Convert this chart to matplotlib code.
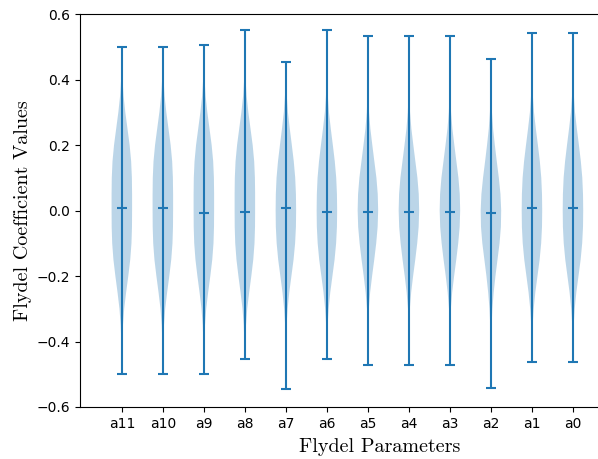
#!/usr/bin/env python3
"""
Violin plot of the Flydel coefficient distributions per parameter
"""

import numpy as np
import matplotlib
matplotlib.use('Agg')
import matplotlib.pyplot as plt

# parameter names, left to right
labels = ['a11', 'a10', 'a9', 'a8', 'a7', 'a6', 'a5', 'a4', 'a3', 'a2', 'a1', 'a0']

# extrema and medians
mins = [-0.50, -0.50, -0.50, -0.453, -0.545, -0.453, -0.472, -0.472, -0.472, -0.542, -0.463, -0.463]
maxs = [0.50, 0.50, 0.505, 0.551, 0.453, 0.551, 0.533, 0.533, 0.533, 0.463, 0.542, 0.542]
medians = [0.008, 0.008, -0.008, -0.005, 0.008, -0.005, -0.005, -0.005, -0.005, -0.008, 0.008, 0.008]

# density profile levels (y values) and relative widths of the violins
levels = [-0.55, -0.50, -0.45, -0.40, -0.35, -0.30, -0.25, -0.20, -0.15, -0.10, -0.05,
          0.00, 0.05, 0.10, 0.15, 0.20, 0.25, 0.30, 0.35, 0.40, 0.45, 0.50, 0.55]
wide = [0.0, 0.0, 0.02, 0.05, 0.11, 0.23, 0.42, 0.63, 0.82, 0.94, 0.99,
        1.0, 1.0, 0.98, 0.91, 0.76, 0.55, 0.34, 0.17, 0.07, 0.02, 0.0, 0.0]
medium = [0.0, 0.0, 0.01, 0.03, 0.07, 0.17, 0.33, 0.54, 0.75, 0.90, 0.98,
          1.0, 0.98, 0.91, 0.77, 0.58, 0.38, 0.20, 0.09, 0.03, 0.01, 0.0, 0.0]
narrow = [0.0, 0.0, 0.0, 0.01, 0.03, 0.09, 0.22, 0.41, 0.62, 0.81, 0.95,
          1.0, 0.96, 0.83, 0.63, 0.43, 0.24, 0.11, 0.04, 0.01, 0.0, 0.0, 0.0]
peaked = [0.0, 0.0, 0.01, 0.03, 0.07, 0.14, 0.27, 0.44, 0.64, 0.84, 0.97,
          1.0, 0.93, 0.77, 0.57, 0.38, 0.21, 0.10, 0.04, 0.01, 0.0, 0.0, 0.0]
profiles = [wide, wide, wide, wide, medium, medium, narrow, narrow, narrow, peaked, medium, medium]


def build_stats():
    """Assemble the stats dicts that ax.violin expects"""
    lv = np.array(levels)
    stats = []
    for lo, hi, med, prof in zip(mins, maxs, medians, profiles):
        coords = np.concatenate([[lo], lv[(lv > lo) & (lv < hi)], [hi]])
        vals = np.interp(coords, lv, prof)
        stats.append({'coords': coords, 'vals': vals, 'mean': med,
                      'median': med, 'min': lo, 'max': hi})
    return stats


fig = plt.figure(figsize=(5.98, 4.59), dpi=100)
# axes runs well past the right edge, like the cropped original
ax = fig.add_axes([80 / 598, 52 / 459, 600 / 598, 393 / 459])

positions = np.arange(1, len(labels) + 1)
ax.violin(build_stats(), positions=positions, widths=0.5,
          showmeans=False, showextrema=True, showmedians=True)

ax.set_xlim(-0.02, 14.61)
ax.set_ylim(-0.6, 0.6)
ax.set_xticks(positions)
ax.set_xticklabels(labels)
ax.set_yticks([-0.6, -0.4, -0.2, 0.0, 0.2, 0.4, 0.6])
ax.tick_params(labelsize=10)

ax.set_xlabel('Flydel Parameters', fontfamily='cmr10', fontsize=14.5, labelpad=5)
ax.set_ylabel('Flydel Coefficient Values', fontfamily='cmr10', fontsize=14.5, labelpad=3)

fig.savefig('out.png', dpi=100)
